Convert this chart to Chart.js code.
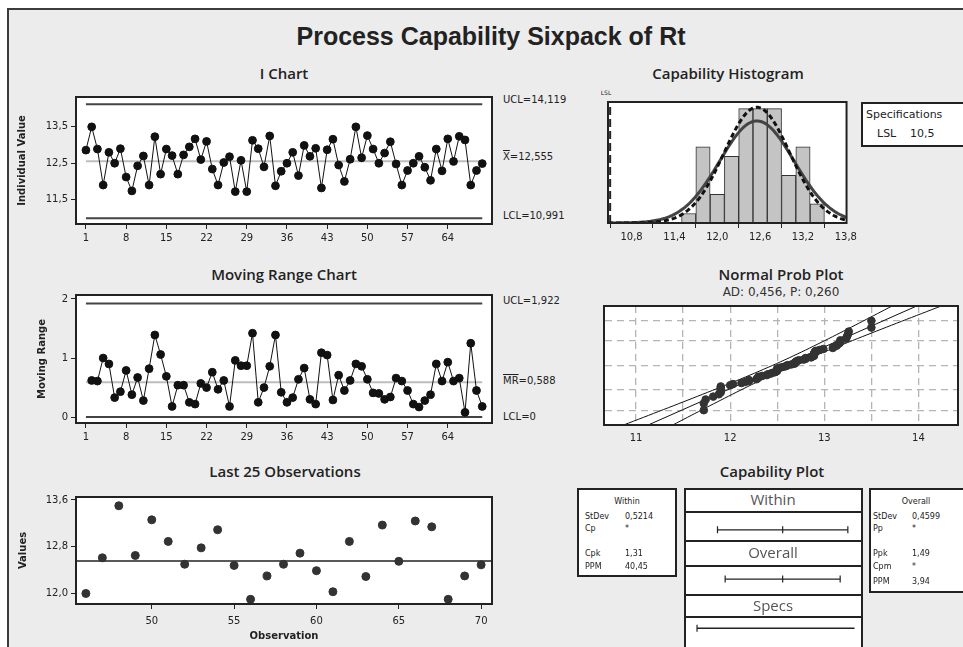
<!DOCTYPE html>
<html>
<head>
<meta charset="utf-8">
<title>Process Capability Sixpack of Rt</title>
<script src="https://cdn.jsdelivr.net/npm/chart.js@4.4.1/dist/chart.umd.min.js"></script>
<style>
  html,body{margin:0;padding:0;background:#fff;width:963px;height:647px;overflow:hidden;}
  body{position:relative;font-family:"DejaVu Sans",sans-serif;color:#222;}
  #sheet{position:absolute;left:7px;top:8px;width:956px;height:639px;background:#ececec;border-left:2px solid #3c3c3c;border-top:2px solid #3c3c3c;}
  canvas,.box,.t,.sep{position:absolute;}
  .box{background:#fff;border:2px solid #222;box-sizing:border-box;}
  .sep{height:2px;background:#222;}
  .t{white-space:nowrap;line-height:1;}
  .main{font:bold 25px "Liberation Sans",sans-serif;}
  .sub{font:600 15px "Open Sans",sans-serif;}
  .lim{font-size:10px;}
  .tab{font-size:8px;}
  .cap{font:15px "Open Sans",sans-serif;color:#555;}
  .ov{text-decoration:overline;}
</style>
</head>
<body>
<div id="sheet"></div>

<!-- capability plot column -->
<div class="box" style="left:684px;top:488px;width:179px;height:175px"></div>
<div class="sep" style="left:684px;top:511px;width:179px"></div>
<div class="sep" style="left:684px;top:540px;width:179px"></div>
<div class="sep" style="left:684px;top:565px;width:179px"></div>
<div class="sep" style="left:684px;top:594px;width:179px"></div>
<div class="sep" style="left:684px;top:616px;width:179px"></div>

<canvas id="iChart" width="485" height="160" style="left:12px;top:88px"></canvas>
<canvas id="mrChart" width="485" height="161" style="left:12px;top:286px"></canvas>
<canvas id="lastChart" width="485" height="159" style="left:12px;top:488px"></canvas>
<canvas id="histChart" width="262" height="150" style="left:598px;top:96px"></canvas>
<canvas id="probChart" width="365" height="150" style="left:598px;top:300px"></canvas>
<canvas id="capChart" width="175" height="135" style="left:686px;top:512px"></canvas>

<div class="box" style="left:577px;top:488px;width:100px;height:89px"></div>
<div class="box" style="left:869px;top:488px;width:100px;height:105px"></div>
<div class="box" style="left:861px;top:102px;width:110px;height:45px"></div>

<script>
// values
const obsValues = [
  12.86, 13.5, 12.89, 11.9, 12.8, 12.5, 12.9, 12.12, 11.74, 12.43,
  12.7, 11.9, 13.23, 12.2, 12.89, 12.71, 12.2, 12.73, 12.95, 13.17,
  12.6, 13.1, 12.34, 11.9, 12.52, 12.68, 11.72, 12.58, 11.72, 13.13,
  12.9, 12.4, 13.25, 11.88, 12.28, 12.5, 12.8, 12.16, 12.99, 12.69,
  12.91, 11.82, 12.87, 13.16, 12.45, 12.0, 12.61, 13.5, 12.65, 13.26,
  12.89, 12.5, 12.78, 13.09, 12.48, 11.9, 12.3, 12.5, 12.69, 12.39,
  12.03, 12.89, 12.29, 13.17, 12.55, 13.24, 13.14, 11.9, 12.3, 12.49
];
// moving ranges, observations 2..70
const movingRanges = [
  0.62, 0.61, 1.0, 0.9, 0.33, 0.43, 0.79, 0.38, 0.67,
  0.28, 0.82, 1.39, 1.06, 0.69, 0.18, 0.54, 0.54, 0.25, 0.22,
  0.57, 0.5, 0.76, 0.47, 0.62, 0.18, 0.96, 0.87, 0.87, 1.42,
  0.25, 0.5, 0.86, 1.39, 0.42, 0.25, 0.33, 0.64, 0.83, 0.3,
  0.22, 1.09, 1.05, 0.29, 0.71, 0.45, 0.62, 0.9, 0.86, 0.64,
  0.41, 0.4, 0.3, 0.34, 0.66, 0.61, 0.45, 0.22, 0.17, 0.28,
  0.38, 0.9, 0.61, 0.93, 0.61, 0.66, 0.08, 1.25, 0.45, 0.18
];
const obsTicks = [1, 8, 15, 22, 29, 36, 43, 50, 57, 64];
const iTicks = [11.5, 12.5, 13.5];
const mrTicks = [0, 1, 2];
const lastTicksX = [50, 55, 60, 65, 70];
const lastTicksY = [12.0, 12.8, 13.6];
const binMids = [11.6, 11.8, 12.0, 12.2, 12.4, 12.6, 12.8, 13.0, 13.2, 13.4];
const binCounts = [1, 8, 3, 7, 12, 12, 12, 5, 8, 2];
const histTicks = [10.8, 11.4, 12.0, 12.6, 13.2, 13.8];
const probTicksX = [11, 11.5, 12, 12.5, 13, 13.5, 14];
const probPercents = [1, 10, 50, 90, 99];
const withinInterval = [10.991, 12.555, 14.119];
const overallInterval = [11.175, 12.555, 13.935];
const withinStats = [['StDev', '0,5214'], ['Cp', '*'], ['Cpk', '1,31'], ['PPM', '40,45']];
const overallStats = [['StDev', '0,4599'], ['Pp', '*'], ['Ppk', '1,49'], ['Cpm', '*'], ['PPM', '3,94']];

const UCL_I = 14.119, MEAN_I = 12.555, LCL_I = 10.991;
const UCL_MR = 1.922, MEAN_MR = 0.588, LCL_MR = 0;
const LSL = 10.5;
const SD_WITHIN = 0.5214, SD_OVERALL = 0.4599;
const AD_STAT = 0.456, P_VALUE = 0.260;
const N_OBS = obsValues.length;
const BIN_W = 0.2;
const Z_LIM = 3.1;

Chart.defaults.font.family = '"DejaVu Sans", sans-serif';
Chart.defaults.font.size = 10;
Chart.defaults.color = '#222';
Chart.defaults.animation = false;
Chart.defaults.plugins.legend.display = false;
Chart.defaults.plugins.tooltip.enabled = false;

const fmt = (v, d) => Number(v).toFixed(d).replace('.', ',');

// white plot area + dark frame, like Minitab panels
const framePlugin = {
  id: 'frame',
  beforeDraw(chart){
    const {ctx, chartArea:a} = chart;
    ctx.save(); ctx.fillStyle = '#fff'; ctx.fillRect(a.left, a.top, a.width, a.height); ctx.restore();
  },
  afterDraw(chart){
    const {ctx, chartArea:a} = chart;
    ctx.save(); ctx.strokeStyle = '#222'; ctx.lineWidth = 2;
    ctx.strokeRect(a.left, a.top, a.width, a.height); ctx.restore();
  }
};

function fixedTicks(values){ return s => { s.ticks = values.map(v => ({ value: v })); }; }

function hLine(y, x0, x1, color, width){
  return { type:'line', data:[{x:x0, y}, {x:x1, y}], borderColor:color, borderWidth:width, pointRadius:0, showLine:true };
}

function axisX(min, max, ticks, decimals, height, extra){
  return Object.assign({
    type:'linear', min, max, offset:false,
    afterBuildTicks: fixedTicks(ticks),
    afterFit: s => { s.height = height; },
    grid:{ drawOnChartArea:false, drawTicks:true, tickLength:5, color:'#222' },
    border:{ display:true, color:'#222', width:2 },
    ticks:{ padding:3, maxRotation:0, autoSkip:false, callback: v => decimals == null ? String(v) : fmt(v, decimals) }
  }, extra || {});
}

function axisY(min, max, ticks, decimals, width, title, titlePad){
  return {
    type:'linear', min, max,
    afterBuildTicks: fixedTicks(ticks),
    afterFit: s => { s.width = width; },
    grid:{ drawOnChartArea:false, drawTicks:true, tickLength:5, color:'#222' },
    border:{ display:true, color:'#222', width:2 },
    ticks:{ padding:3, autoSkip:false, callback: v => fmt(v, decimals) },
    title:{ display:true, text:title, font:{ size:10, weight:'bold' }, padding:{ top:titlePad, bottom:0 } }
  };
}

// I chart
new Chart(document.getElementById('iChart'), {
  type:'line',
  data:{ datasets:[
    { data: obsValues.map((v, i) => ({ x:i + 1, y:v })), borderColor:'#111', borderWidth:1,
      pointRadius:3.9, pointBackgroundColor:'#111', pointBorderColor:'#111', tension:0 },
    hLine(UCL_I, 1, 70, '#444', 2),
    hLine(LCL_I, 1, 70, '#444', 2),
    hLine(MEAN_I, 1, 70, '#bdbdbd', 2)
  ]},
  options:{ responsive:false, layout:{ padding:{ top:5, right:3 } },
    scales:{ x: axisX(-0.73, 71.7, obsTicks, null, 24), y: axisY(10.83, 14.32, iTicks, 1, 64, 'Individual Value', 4) } },
  plugins:[framePlugin]
});

// Moving range chart
new Chart(document.getElementById('mrChart'), {
  type:'line',
  data:{ datasets:[
    { data: movingRanges.map((v, i) => ({ x:i + 2, y:v })), borderColor:'#111', borderWidth:1,
      pointRadius:3.9, pointBackgroundColor:'#111', pointBorderColor:'#111', tension:0 },
    hLine(UCL_MR, 1, 70, '#444', 2),
    hLine(LCL_MR, 1, 70, '#444', 2),
    hLine(MEAN_MR, 1, 70, '#bdbdbd', 2)
  ]},
  options:{ responsive:false, layout:{ padding:{ top:7, right:3 } },
    scales:{ x: axisX(-0.73, 71.7, obsTicks, null, 24), y: axisY(-0.1, 2.067, mrTicks, 0, 64, 'Moving Range', 24) } },
  plugins:[framePlugin]
});

// Last 25 observations
const lastStart = N_OBS - 25;
new Chart(document.getElementById('lastChart'), {
  type:'scatter',
  data:{ datasets:[
    { data: obsValues.slice(lastStart).map((v, i) => ({ x:lastStart + i + 1, y:v })),
      pointRadius:4, pointBackgroundColor:'#333', pointBorderColor:'#333' },
    hLine(MEAN_I, 45.4, 70.66, '#222', 1.5)
  ]},
  options:{ responsive:false, layout:{ padding:{ top:6, right:3 } },
    scales:{
      x: axisX(45.4, 70.66, lastTicksX, null, 43, {
        ticks:{ padding:6, maxRotation:0, autoSkip:false, callback: v => String(v) },
        title:{ display:true, text:'Observation', font:{ size:10, weight:'bold' }, padding:{ top:0, bottom:5 } }
      }),
      y: axisY(11.82, 13.65, lastTicksY, 1, 64, 'Values', 5)
    } },
  plugins:[framePlugin]
});

// Capability histogram
function normalCurve(sd){
  const pts = [];
  for (let x = 10.45; x <= 13.85; x += 0.02) {
    const z = (x - MEAN_I) / sd;
    pts.push({ x, y: N_OBS * BIN_W * Math.exp(-z * z / 2) / (sd * Math.sqrt(2 * Math.PI)) });
  }
  return pts;
}
new Chart(document.getElementById('histChart'), {
  type:'bar',
  data:{ datasets:[
    { type:'line', data: normalCurve(SD_OVERALL), borderColor:'#111', borderWidth:3, borderDash:[5, 3], pointRadius:0 },
    { type:'line', data: normalCurve(SD_WITHIN), borderColor:'#444', borderWidth:3, pointRadius:0 },
    { type:'line', data:[{ x:LSL, y:0 }, { x:LSL, y:12.7 }], borderColor:'#222', borderWidth:2, borderDash:[8, 4], pointRadius:0 },
    { type:'bar', data: binMids.map((m, i) => ({ x:m, y:binCounts[i] })), backgroundColor:'#c4c4c4',
      borderColor:'#333', borderWidth:1, barPercentage:1, categoryPercentage:1, grouped:false }
  ]},
  options:{ responsive:false, layout:{ padding:{ top:6, left:10, right:13 } },
    scales:{
      x: axisX(10.47, 13.81, histTicks, 1, 23),
      y: { type:'linear', display:false, min:0, max:12.7 }
    } },
  plugins:[framePlugin]
});

// Normal probability plot
function invNorm(p){
  const a = [-39.69683028665376, 220.9460984245205, -275.9285104469687, 138.3577518672690, -30.66479806614716, 2.506628277459239];
  const b = [-54.47609879822406, 161.5858368580409, -155.6989798598866, 66.80131188771972, -13.28068155288572];
  const c = [-0.007784894002430293, -0.3223964580411365, -2.400758277161838, -2.549732539343734, 4.374664141464968, 2.938163982698783];
  const d = [0.007784695709041462, 0.3224671290700398, 2.445134137142996, 3.754408661907416];
  const pl = 0.02425;
  let q, r;
  if (p < pl) { q = Math.sqrt(-2 * Math.log(p)); return (((((c[0]*q+c[1])*q+c[2])*q+c[3])*q+c[4])*q+c[5]) / ((((d[0]*q+d[1])*q+d[2])*q+d[3])*q+1); }
  if (p > 1 - pl) { q = Math.sqrt(-2 * Math.log(1 - p)); return -(((((c[0]*q+c[1])*q+c[2])*q+c[3])*q+c[4])*q+c[5]) / ((((d[0]*q+d[1])*q+d[2])*q+d[3])*q+1); }
  q = p - 0.5; r = q * q;
  return (((((a[0]*r+a[1])*r+a[2])*r+a[3])*r+a[4])*r+a[5])*q / (((((b[0]*r+b[1])*r+b[2])*r+b[3])*r+b[4])*r+1);
}
const sortedObs = obsValues.slice().sort((a, b) => a - b);
const probPoints = sortedObs.map((v, i) => ({ x:v, y: invNorm((i + 1 - 0.3) / (N_OBS + 0.4)) }));
const bandLo = [], bandHi = [];
for (let z = -Z_LIM; z <= Z_LIM + 1e-9; z += 0.1) {
  const h = 1.96 * SD_OVERALL * Math.sqrt(1 / N_OBS + z * z / (2 * (N_OBS - 1)));
  bandLo.push({ x: MEAN_I + z * SD_OVERALL - h, y: z });
  bandHi.push({ x: MEAN_I + z * SD_OVERALL + h, y: z });
}
new Chart(document.getElementById('probChart'), {
  type:'scatter',
  data:{ datasets:[
    { data: probPoints, pointRadius:3.8, pointBackgroundColor:'#333', pointBorderColor:'#333' },
    { data:[{ x:MEAN_I - Z_LIM * SD_OVERALL, y:-Z_LIM }, { x:MEAN_I + Z_LIM * SD_OVERALL, y:Z_LIM }], showLine:true, borderColor:'#111', borderWidth:1, pointRadius:0 },
    { data: bandLo, showLine:true, borderColor:'#111', borderWidth:1, pointRadius:0 },
    { data: bandHi, showLine:true, borderColor:'#111', borderWidth:1, pointRadius:0 }
  ]},
  options:{ responsive:false, layout:{ padding:{ top:6, left:6, right:1 } },
    scales:{
      x:{ type:'linear', min:10.66, max:14.42, afterBuildTicks: fixedTicks(probTicksX), afterFit: s => { s.height = 25; },
        grid:{ color:'#b4b4b4', drawTicks:false, lineWidth:1.3 }, border:{ display:true, color:'#222', width:2, dash:[7, 5] },
        ticks:{ padding:7, autoSkip:false, maxRotation:0, callback: v => Number.isInteger(v) ? String(v) : '' } },
      y:{ type:'linear', min:-Z_LIM, max:Z_LIM, afterBuildTicks: fixedTicks(probPercents.map(p => invNorm(p / 100))),
        afterFit: s => { s.width = 0; }, grid:{ color:'#b4b4b4', drawTicks:false, lineWidth:1.3 }, border:{ display:true, color:'#222', width:2, dash:[7, 5] },
        ticks:{ display:false } }
    } },
  plugins:[framePlugin]
});

// Capability plot intervals
const tickStyle = { pointStyle:'line', rotation:90, pointRadius:3.5, pointBorderColor:'#222', pointBorderWidth:1.2, borderColor:'#222', borderWidth:1.2, showLine:true };
new Chart(document.getElementById('capChart'), {
  type:'scatter',
  data:{ datasets:[
    Object.assign({ data: withinInterval.map(x => ({ x, y:1 })) }, tickStyle),
    Object.assign({ data: overallInterval.map(x => ({ x, y:2 })) }, tickStyle),
    Object.assign({ data:[{ x:LSL, y:3 }, { x:14.28, y:3 }] }, tickStyle, { pointRadius:[3.5, 0], borderWidth:1.5 })
  ]},
  options:{ responsive:false, layout:{ padding:0 },
    scales:{
      x:{ type:'linear', display:false, min:10.36, max:14.31 },
      y:{ type:'linear', display:false, reverse:true, min:0.743, max:3.276 }
    } }
});

// texts
function put(html, x, y, cls, align){
  const d = document.createElement('div');
  d.className = 't ' + (cls || '');
  d.innerHTML = html;
  d.style.left = x + 'px';
  d.style.top = y + 'px';
  d.style.transform = align === 'left' ? 'translate(0,-50%)' : 'translate(-50%,-50%)';
  document.body.appendChild(d);
  return d;
}
put('Process Capability Sixpack of Rt', 491, 36, 'main');
put('I Chart', 284, 73, 'sub');
put('Moving Range Chart', 284, 274, 'sub');
put('Last 25 Observations', 285, 471, 'sub');
put('Capability Histogram', 728, 73, 'sub');
put('Normal Prob Plot', 781, 274, 'sub');
const ad = put('AD: ' + fmt(AD_STAT, 3) + ', P: ' + fmt(P_VALUE, 3), 781, 292, '', null);
ad.style.fontSize = '12px'; ad.style.color = '#333';
put('Capability Plot', 772, 471, 'sub');

put('UCL=' + fmt(UCL_I, 3), 503, 100, 'lim', 'left');
put('<span class="ov">X</span>=' + fmt(MEAN_I, 3), 503, 157, 'lim', 'left');
put('LCL=' + fmt(LCL_I, 3), 503, 216, 'lim', 'left');
put('UCL=' + fmt(UCL_MR, 3), 503, 301, 'lim', 'left');
put('<span class="ov">MR</span>=' + fmt(MEAN_MR, 3), 503, 381, 'lim', 'left');
put('LCL=' + fmt(LCL_MR, 0), 503, 417, 'lim', 'left');

put('LSL', 606, 93, '', null).style.fontSize = '6px';
put('Specifications', 866, 114, '', 'left').style.fontSize = '11px';
put('LSL', 877, 133, '', 'left').style.fontSize = '11px';
put(fmt(LSL, 1), 910, 133, '', 'left').style.fontSize = '11px';

put('Within', 773, 499, 'cap');
put('Overall', 773, 552, 'cap');
put('Specs', 773, 605, 'cap');

put('Within', 627, 502, 'tab');
const withinY = [517, 529, 554, 567];
withinStats.forEach((r, i) => { put(r[0], 585, withinY[i], 'tab', 'left'); put(r[1], 625, withinY[i], 'tab', 'left'); });
put('Overall', 916, 502, 'tab');
const overallY = [517, 529, 554, 567, 582];
overallStats.forEach((r, i) => { put(r[0], 873, overallY[i], 'tab', 'left'); put(r[1], 912, overallY[i], 'tab', 'left'); });
</script>
</body>
</html>
